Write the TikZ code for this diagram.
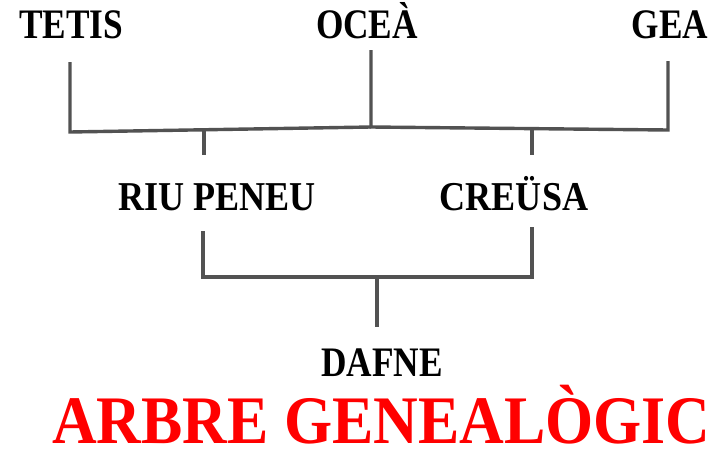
\documentclass[tikz,border=0pt]{standalone}
\usepackage{fontspec}
\setmainfont{Liberation Serif}
\newfontfamily\namefont[FakeStretch=0.84]{Liberation Serif}
\newfontfamily\midfont[FakeStretch=0.88]{Liberation Serif}
\newfontfamily\titlefont[FakeStretch=0.91]{Liberation Serif}
\usetikzlibrary{positioning}

\begin{document}
\begin{tikzpicture}[x=1pt,y=-1pt]
        \tikzset{person/.style = {inner sep=0pt, anchor=base, font=\namefont\bfseries\fontsize{42}{42}\selectfont}}
        \tikzset{child/.style = {inner sep=0pt, anchor=base, font=\midfont\bfseries\fontsize{41}{41}\selectfont}}
        \tikzset{edge/.style = {draw=black!68, line width=3.4pt}}
        \useasboundingbox[fill=white] (0,0) rectangle (716,461);
        % vertices
        \node[person] (tetis) at (71,38) {TETIS};
        \node[person] (ocea) at (367,38) {OCEÀ};
        \node[person] (gea) at (670,38) {GEA};
        \node[child] (peneu) at (217,210) {RIU PENEU};
        \node[child] (creusa) at (514,210) {CREÜSA};
        \node[person] (dafne) at (382,376) {DAFNE};
        \node[inner sep=0pt, anchor=base, text=red, font=\titlefont\bfseries\fontsize{68}{68}\selectfont] (title) at (381.5,443) {ARBRE GENEALÒGIC};

        % junctions
        \coordinate (t1) at (70,62);
        \coordinate (t2) at (70,132);
        \coordinate (o1) at (371,50);
        \coordinate (o2) at (371,127);
        \coordinate (g1) at (668,61);
        \coordinate (g2) at (668,130);
        \coordinate (p0) at (204,129);
        \coordinate (p1) at (204,155);
        \coordinate (c0) at (532,128.5);
        \coordinate (c1) at (532,155);
        \coordinate (p2) at (203,231);
        \coordinate (p3) at (203,277);
        \coordinate (c2) at (532,227);
        \coordinate (c3) at (532,277);
        \coordinate (d0) at (377,277);
        \coordinate (d1) at (377,327);

        % edges
        \draw[edge] (t1) -- (t2) -- (o2);
        \draw[edge] (o1) -- (o2) -- (g2) -- (g1);
        \draw[edge] (p0) -- (p1);
        \draw[edge] (c0) -- (c1);
        \draw[edge] (p2) -- (p3) -- (c3) -- (c2);
        \draw[edge] (d0) -- (d1);
\end{tikzpicture}
\end{document}
